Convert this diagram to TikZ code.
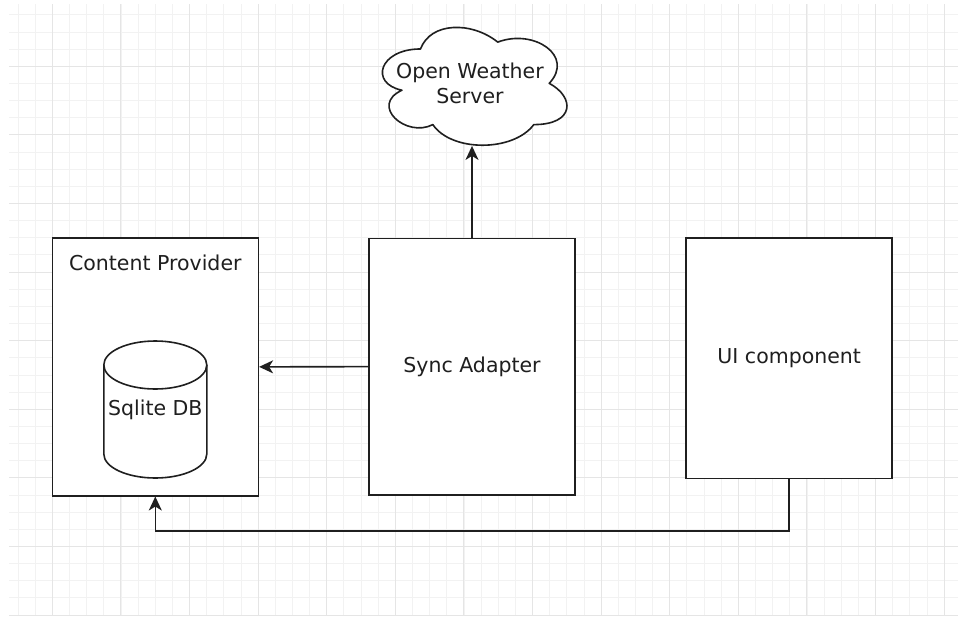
\documentclass[tikz,border=0pt]{standalone}
\usepackage{fontspec}
\setmainfont{DejaVu Sans}
\usetikzlibrary{positioning,calc,arrows.meta}
\tikzset{box/.style={draw=black!88,line width=1.6pt,fill=white,minimum width=206,inner sep=0pt}}
\tikzset{conn/.style={draw=black!88,line width=1.6pt}}
\tikzset{outline/.style={draw=black!88,line width=1.6pt,fill=white,line join=round}}
\tikzset{minorgrid/.style={draw=black!5,line width=0.8pt}}
\tikzset{majorgrid/.style={draw=black!10,line width=1pt}}
\tikzset{>={Stealth[length=14pt,width=13pt,inset=4pt]}}

\begin{document}
\begin{tikzpicture}[x=1pt,y=-1pt,font=\fontsize{20.5}{25}\selectfont,text=black!88]
	\useasboundingbox[fill=white] (0,0) rectangle (958,616);
	% grid
	\foreach \k in {-2,...,52}
		\draw[minorgrid] ({52.3+17.15*\k},4) -- ({52.3+17.15*\k},616);
	\foreach \k in {-3,...,32}
		\draw[minorgrid] (9,{66.2+17.15*\k}) -- (958,{66.2+17.15*\k});
	\foreach \k in {0,...,13}
		\draw[majorgrid] ({52.3+68.6*\k},4) -- ({52.3+68.6*\k},616);
	\foreach \k in {0,...,8}
		\draw[majorgrid] (9,{66.2+68.6*\k}) -- (958,{66.2+68.6*\k});

	\node[box,minimum height=257.7] (provider) at (155.3,366.85) {};
	\node (providertitle) at (155.3,263) {Content Provider};
	% database cylinder
	\draw[outline] (103.8,365) -- (103.8,454) arc[start angle=180,end angle=0,x radius=51.5,y radius=24]
		-- (206.8,365) arc[start angle=0,end angle=-180,x radius=51.5,y radius=24] -- cycle;
	\draw[outline,fill=none] (103.8,365) arc[start angle=180,end angle=0,x radius=51.5,y radius=24];
	\node (db) at (155.3,410) {Sqlite DB};

	\node[box,minimum height=256.7] (sync) at (472,366.65) {Sync Adapter};
	\node[box,minimum height=240.3] (ui) at (789.2,358.2) {UI component};

	% cloud
	\begin{scope}[shift={(369,14.6)},x=206pt,y=-137.5pt]
		\draw[outline] (0.25,0.25) .. controls (0.05,0.25) and (0,0.5) .. (0.16,0.55)
			.. controls (0,0.66) and (0.18,0.9) .. (0.31,0.8)
			.. controls (0.4,1) and (0.7,1) .. (0.8,0.8)
			.. controls (1,0.8) and (1,0.6) .. (0.875,0.5)
			.. controls (1,0.3) and (0.8,0.1) .. (0.625,0.2)
			.. controls (0.5,0.05) and (0.3,0.05) .. (0.25,0.25) -- cycle;
		\coordinate (weatherbase) at (0.5,0.955);
		\node[align=center] (weather) at (0.49,0.5) {Open Weather\\Server};
	\end{scope}

	\draw[conn,->] (sync.north) -- (weatherbase);
	\draw[conn,->] (sync.west) -- (provider.east);
	\draw[conn,->] (ui.south) -- ++(0,51.7) -| (provider.south);
\end{tikzpicture}
\end{document}
